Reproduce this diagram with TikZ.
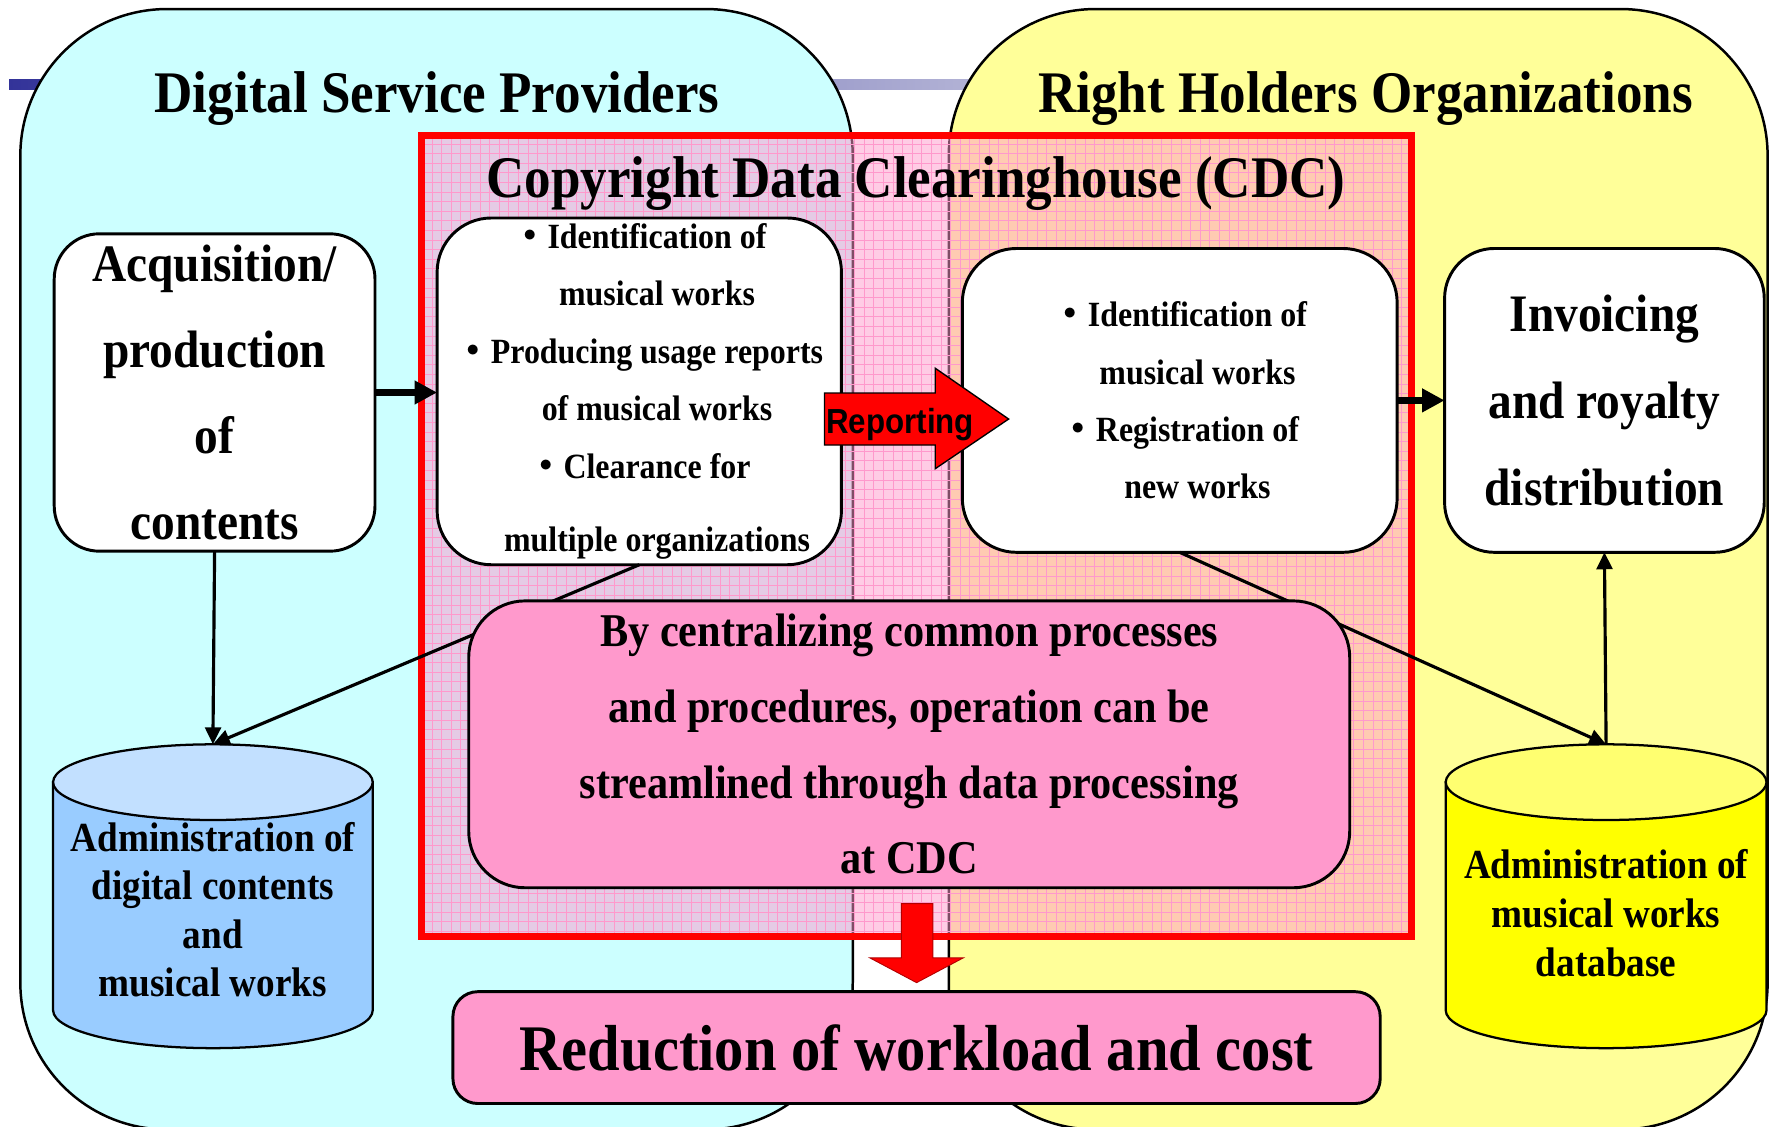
\documentclass[tikz,border=0pt]{standalone}
\usepackage{fontspec}
\setmainfont{Liberation Serif}[FakeStretch=0.9]
\newfontfamily\arialf{Liberation Sans}[FakeStretch=0.9]
\newfontfamily\cjkf{Noto Sans CJK JP}
\usetikzlibrary{arrows.meta}
\newcommand{\cdcbul}{{\cjkf ・}}
\newcommand{\cdcind}{\hphantom{\cdcbul}}
\definecolor{cyanbox}{HTML}{CCFFFF}
\definecolor{yelbox}{HTML}{FFFF99}
\definecolor{pinkbox}{HTML}{FF99CC}
\definecolor{cylblue}{HTML}{99CCFF}
\definecolor{cylbluetop}{HTML}{C2E0FF}
\definecolor{cylyel}{HTML}{FFFF00}
\definecolor{cylyeltop}{HTML}{FFFF70}
\definecolor{bardark}{HTML}{333399}
\definecolor{barlight}{HTML}{B8B8D8}
\definecolor{gridpink}{HTML}{FF99CC}
\definecolor{arrred}{HTML}{FF0000}
\begin{document}
\begin{tikzpicture}[x=0.5pt,y=-0.5pt,
  every node/.style={inner sep=0pt,outer sep=0pt},
  bigbox/.style={draw,line width=1.1pt,rounded corners=65pt},
  wbox/.style={draw,line width=1.3pt,fill=white,rounded corners=22pt,align=center},
  pbox/.style={draw,line width=1.3pt,fill=pinkbox,align=center},
  titletext/.style={anchor=base,font=\fontsize{26.1pt}{30pt}\selectfont\bfseries},
  cyltext/.style={align=center,font=\fontsize{18.3pt}{21.5pt}\selectfont\bfseries},
  conn/.style={line width=1.4pt,-{Triangle[length=7.5pt,width=7pt]}},
  tarr/.style={line width=3pt,-{Triangle[length=10pt,width=10pt]}},
  blockarrow/.style={fill=arrred,draw=black,line width=0.6pt}]
\useasboundingbox (0,0) rectangle (1568,997);
\clip (0,0) rectangle (1568,997);

% header bar
\shade[left color=bardark,right color=barlight] (8,70) rectangle (900,79);

% big containers
\draw[bigbox,fill=cyanbox] (18,8) rectangle (755,1000);
\draw[bigbox,fill=yelbox] (840,8) rectangle (1565,1000);

\node[titletext] (tdsp) at (387,100) {Digital Service Providers};
\node[titletext] (trho) at (1209,100) {Right Holders Organizations};

% CDC area
\fill[pinkbox,opacity=0.5] (373,120) rectangle (1250,829);
\draw[gridpink,line width=0.3pt,step=4.25pt] (373,829) grid (1250,120);
\draw[arrred,line width=3.2pt] (373,120) rectangle (1250,829);
\node[titletext] (tcdc) at (811,175) {Copyright Data Clearinghouse (CDC)};

% cylinders
\draw[line width=1pt,fill=cylblue] (47,692.5) -- (47,894.5)
  arc[start angle=180,end angle=360,x radius=70.75pt,y radius=16.75pt] -- (330,692.5) -- cycle;
\draw[line width=1pt,fill=cylbluetop] (188.5,692.5) ellipse[x radius=70.75pt,y radius=16.75pt];
\coordinate (cylLtop) at (188.5,659);
\node[cyltext] (cylLtxt) at (188.5,805.5) {Administration of\\digital contents\\and\\musical works};

\draw[line width=1pt,fill=cylyel] (1280,692.5) -- (1280,894.5)
  arc[start angle=180,end angle=360,x radius=71pt,y radius=16.75pt] -- (1564,692.5) -- cycle;
\draw[line width=1pt,fill=cylyeltop] (1422,692.5) ellipse[x radius=71pt,y radius=16.75pt];
\coordinate (cylRtop) at (1422,659);
\node[cyltext] (cylRtxt) at (1422,808.5) {Administration of\\musical works\\database};

% boxes
\node[wbox,rounded corners=20pt,minimum width=142pt,minimum height=140.5pt,
  font=\fontsize{23.3pt}{38pt}\selectfont\bfseries] (acq) at (190,347.5)
  {Acquisition/\\production\\of\\contents};
\node[wbox,rounded corners=24pt,minimum width=179pt,minimum height=153.5pt,
  font=\fontsize{15.7pt}{25.5pt}\selectfont\bfseries] (cdcl) at (566,346.5)
  {\cdcbul Identification of\\\cdcind musical works\\\cdcbul Producing usage reports\\\cdcind of musical works\\\cdcbul Clearance for\\[7pt]\cdcind multiple organizations};
\node[wbox,rounded corners=24pt,minimum width=192.5pt,minimum height=134.5pt,
  font=\fontsize{15.7pt}{25.3pt}\selectfont\bfseries] (cdcr) at (1044.5,354.5)
  {\cdcbul Identification of\\\cdcind musical works\\\cdcbul Registration of\\\cdcind new works};
\node[wbox,rounded corners=22pt,minimum width=141.5pt,minimum height=134.5pt,
  font=\fontsize{23.3pt}{38.5pt}\selectfont\bfseries] (inv) at (1420.5,354.5)
  {Invoicing\\and royalty\\distribution};

% connectors
\draw[conn] (acq.south) -- (cylLtop);
\draw[conn] (cdcl.south) -- (cylLtop);
\draw[conn] (cdcr.south) -- (cylRtop);
\draw[conn] (cylRtop) -- (inv.south);
\draw[tarr] (acq.east) -- (acq.east -| cdcl.west);
\draw[tarr] (cdcr.east) -- (inv.west);

% central boxes
\node[pbox,rounded corners=25pt,minimum width=390pt,minimum height=127pt,
  font=\fontsize{20.8pt}{33.5pt}\selectfont\bfseries] (cent) at (805,659)
  {By centralizing common processes\\and procedures, operation can be\\streamlined through data processing\\at CDC};
\node[pbox,rounded corners=11pt,minimum width=410.5pt,minimum height=49.5pt,
  font=\fontsize{28.8pt}{32pt}\selectfont\bfseries] (redu) at (811.5,927.5)
  {Reduction of workload and cost};

% block arrows
\draw[blockarrow] (730,348) -- (828,348) -- (828,326) -- (893,371) -- (828,415) -- (828,394) -- (730,394) -- cycle;
\node[font=\arialf\fontsize{15.4pt}{18pt}\selectfont\bfseries] (rep) at (797,376) {Reporting};
\draw[fill=arrred,draw=arrred!70!black,line width=0.4pt] (798,800) -- (826,800) -- (826,848) -- (853,848) -- (811.5,870) -- (770,848) -- (798,848) -- cycle;
\end{tikzpicture}
\end{document}
